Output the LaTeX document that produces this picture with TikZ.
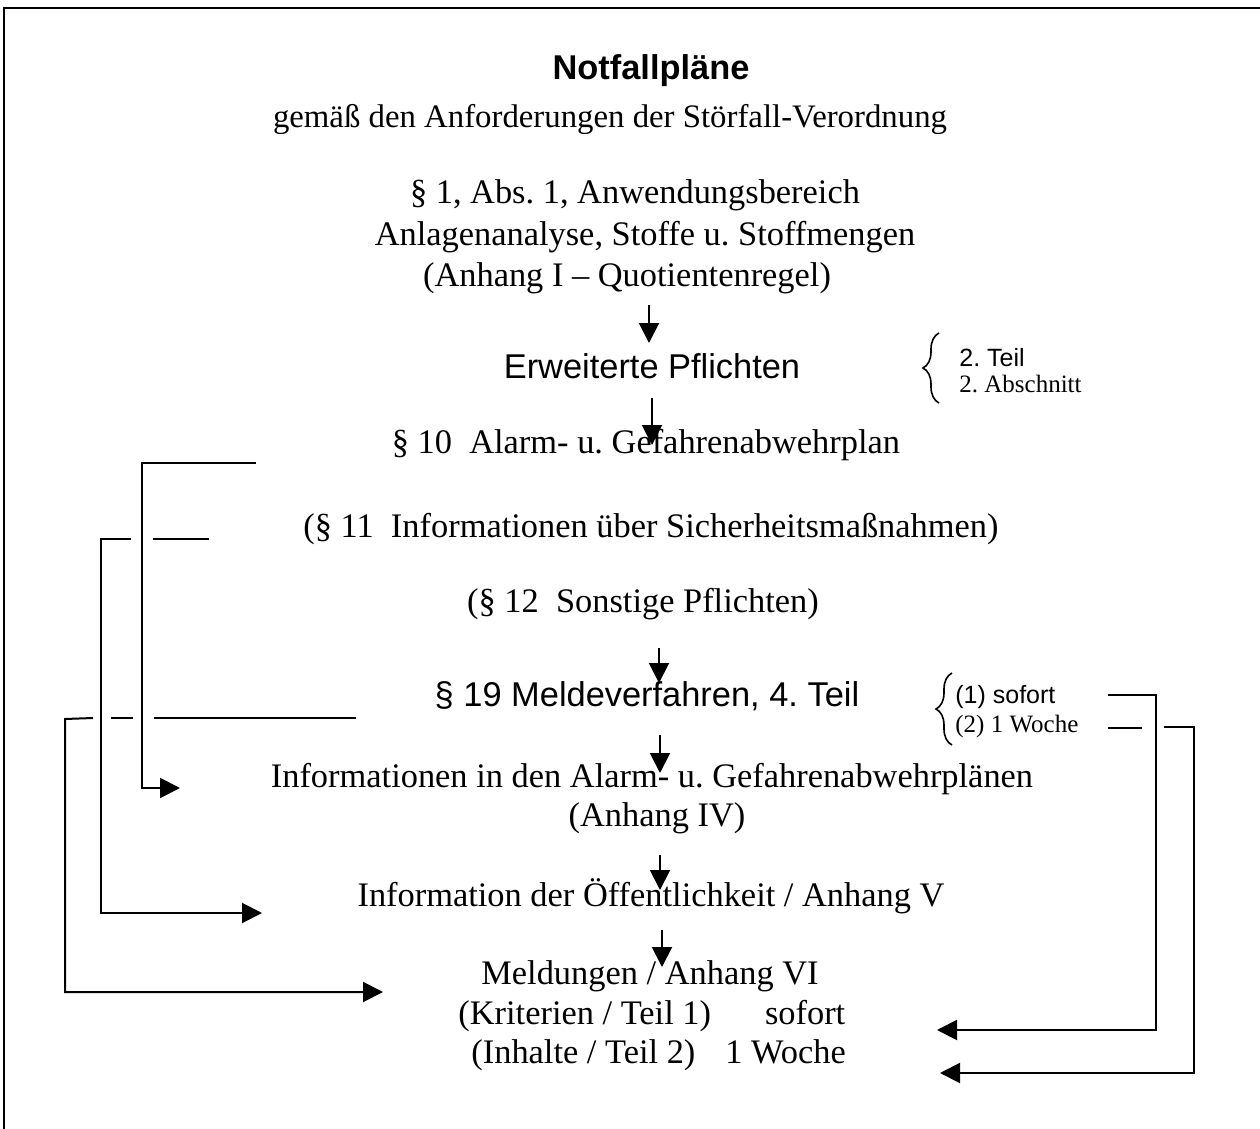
\documentclass[tikz,border=0pt]{standalone}
\usepackage{fontspec}
\setmainfont{Liberation Serif}
\setsansfont{Liberation Sans}
\usetikzlibrary{arrows.meta,decorations.pathreplacing}
\frenchspacing

\begin{document}
\begin{tikzpicture}[x=0.5pt,y=-0.5pt,
  txt/.style={font=\fontsize{17.2}{20}\selectfont, inner sep=0pt, anchor=base},
  txtsans/.style={font=\sffamily\fontsize{17.2}{20}\selectfont, inner sep=0pt, anchor=base},
  note/.style={font=\fontsize{12.5}{14}\selectfont, inner sep=0pt, anchor=base west},
  notesans/.style={font=\sffamily\fontsize{12.5}{14}\selectfont, inner sep=0pt, anchor=base west},
  wire/.style={line width=1pt},
  arr/.style={wire,-{Triangle[length=10pt,width=10pt]}},
  brc/.style={line width=0.8pt, decorate, decoration={brace,amplitude=8pt}}
]
\useasboundingbox (0,0) rectangle (1260,1129);

% page frame
\draw[line width=1.3pt] (4,1140) -- (4,8) -- (1270,8);

% headings
\node[txtsans, font=\sffamily\bfseries\fontsize{17.2}{20}\selectfont] (title) at (651,80) {Notfallpläne};
\node[txt, font=\fontsize{16.4}{19}\selectfont] (sub) at (610,128) {gemäß den Anforderungen der Störfall-Verordnung};

% main column
\node[txt] (p1a) at (635,204) {§ 1, Abs. 1, Anwendungsbereich};
\node[txt] (p1b) at (645,246) {Anlagenanalyse, Stoffe u. Stoffmengen};
\node[txt] (p1c) at (627,286) {(Anhang I – Quotientenregel)};
\node[txtsans] (erw) at (652,379) {Erweiterte Pflichten};
\node[txt] (p10) at (646,453) {§ 10\ \ Alarm- u. Gefahrenabwehrplan};
\node[txt] (p11) at (651,537) {(§ 11\ \ Informationen über Sicherheitsmaßnahmen)};
\node[txt] (p12) at (643,612) {(§ 12\ \ Sonstige Pflichten)};
\node[txtsans] (p19) at (647,706) {§ 19 Meldeverfahren, 4. Teil};
\node[txt] (info4) at (652,787) {Informationen in den Alarm- u. Gefahrenabwehrplänen};
\node[txt] (anh4) at (657,826) {(Anhang IV)};
\node[txt] (info5) at (651,906) {Information der Öffentlichkeit / Anhang V};
\node[txt] (meld) at (650,984) {Meldungen / Anhang VI};
\node[txt, anchor=base west] (krit) at (458,1024) {(Kriterien / Teil 1)\hspace{27pt}sofort};
\node[txt, anchor=base west] (inh) at (471,1063) {(Inhalte / Teil 2)\hspace{15pt}1 Woche};

% side notes with braces
\node[notesans] (teil2) at (959,366) {2. Teil};
\node[note] (abs2) at (959,393) {2. Abschnitt};
\draw[brc] (939,403) -- (939,333);
\node[notesans] (sofort) at (955,703) {(1) sofort};
\node[note] (woche) at (955,732) {(2) 1 Woche};
\draw[brc] (952,745) -- (952,673);

% vertical flow arrows
\coordinate (f1s) at (649,305); \coordinate (f1e) at (649,343);
\coordinate (f2s) at (652,398); \coordinate (f2e) at (652,445);
\coordinate (f3s) at (659,648); \coordinate (f3e) at (659,683);
\coordinate (f4s) at (660,735); \coordinate (f4e) at (660,773);
\coordinate (f5s) at (660,855); \coordinate (f5e) at (660,890);
\coordinate (f6s) at (662,930); \coordinate (f6e) at (662,967);
\foreach \k in {1,...,6} \draw[arr] (f\k s) -- (f\k e);

% left connectors: §10 -> Anhang IV, §11 -> Anhang V, §19 -> Anhang VI
\coordinate (aS) at (256,463); \coordinate (aC1) at (142,463);
\coordinate (aC2) at (142,788); \coordinate (aE) at (180,788);
\draw[arr] (aS) -- (aC1) -- (aC2) -- (aE);

\coordinate (bS) at (209,539); \coordinate (bG1) at (153,539);
\coordinate (bG2) at (131,539); \coordinate (bC1) at (101,539);
\coordinate (bC2) at (101,913); \coordinate (bE) at (262,913);
\draw[wire] (bS) -- (bG1);
\draw[arr] (bG2) -- (bC1) -- (bC2) -- (bE);

\coordinate (cS) at (356,718); \coordinate (cG1) at (154,718);
\coordinate (cG2) at (133,718); \coordinate (cG3) at (111,718);
\coordinate (cG4) at (93,718); \coordinate (cC1) at (65,719);
\coordinate (cC2) at (65,992); \coordinate (cE) at (383,992);
\draw[wire] (cS) -- (cG1);
\draw[wire] (cG2) -- (cG3);
\draw[arr] (cG4) -- (cC1) -- (cC2) -- (cE);

% right connectors: deadlines -> Meldungen
\coordinate (dS) at (1108,695); \coordinate (dC1) at (1156,695);
\coordinate (dC2) at (1156,1030); \coordinate (dE) at (937,1030);
\draw[arr] (dS) -- (dC1) -- (dC2) -- (dE);

\coordinate (eS) at (1108,728); \coordinate (eG1) at (1142,728);
\coordinate (eG2) at (1164,727); \coordinate (eC1) at (1194,727);
\coordinate (eC2) at (1194,1073); \coordinate (eE) at (940,1073);
\draw[wire] (eS) -- (eG1);
\draw[arr] (eG2) -- (eC1) -- (eC2) -- (eE);
\end{tikzpicture}
\end{document}
